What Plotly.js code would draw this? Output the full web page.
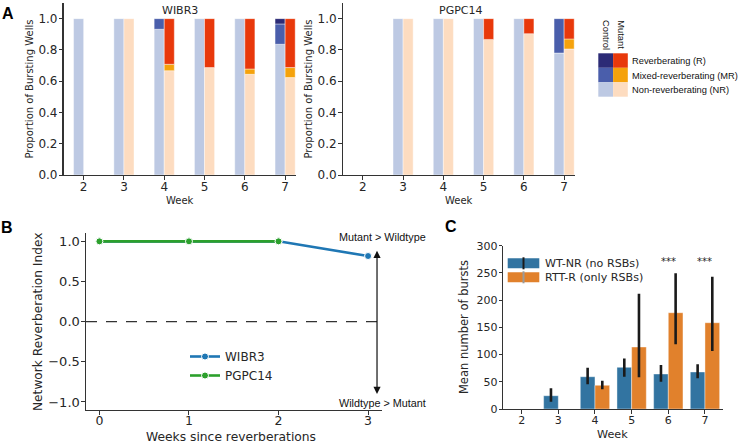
<!DOCTYPE html>
<html>
<head>
<meta charset="utf-8">
<script src="https://cdn.plot.ly/plotly-3.0.1.min.js"></script>
<style>html,body{margin:0;padding:0;background:#fff;}#chart{width:739px;height:444px;}</style>
</head>
<body>
<div id="chart"></div>
<script>
// ---------- Panel A data ----------
const weeks = [2, 3, 4, 5, 6, 7];
const wibr3CtrlNR = [1.0, 1.0, 0.932, 1.0, 1.0, 0.836];
const wibr3CtrlMR = [0, 0, 0.068, 0, 0, 0.130];
const wibr3CtrlR  = [0, 0, 0, 0, 0, 0.034];
const wibr3MutNR  = [null, 1.0, 0.667, 0.687, 0.644, 0.623];
const wibr3MutMR  = [null, 0, 0.041, 0, 0.034, 0.064];
const wibr3MutR   = [null, 0, 0.292, 0.313, 0.322, 0.313];

const pgpcCtrlNR = [null, 1.0, 1.0, 1.0, 1.0, 0.780];
const pgpcCtrlMR = [null, 0, 0, 0, 0, 0.220];
const pgpcCtrlR  = [null, 0, 0, 0, 0, 0];
const pgpcMutNR  = [null, 1.0, 1.0, 0.867, 0.904, 0.806];
const pgpcMutMR  = [null, 0, 0, 0, 0, 0.064];
const pgpcMutR   = [null, 0, 0, 0.133, 0.096, 0.130];

const legendA = ['Reverberating (R)', 'Mixed-reverberating (MR)', 'Non-reverberating (NR)'];

// ---------- Panel B data ----------
const weeksSince = [0, 1, 2, 3];
const nriWIBR3 = [1.0, 1.0, 1.0, 0.817];
const nriPGPC14 = [1.0, 1.0, 1.0];

// ---------- Panel C data ----------
const weeksC = [2, 3, 4, 5, 6, 7];
const wtNR   = [null, 24.4, 59.3, 76.5, 64.3, 68.0];
const wtNRlo = [null, 13.4, 45.3, 59.3, 50.2, 56.4];
const wtNRhi = [null, 38.0, 75.9, 93.0, 80.8, 82.0];
const rttR   = [null, null, 43.5, 113.9, 176.9, 158.5];
const rttRlo = [null, null, 36.2, 58.2, 118.8, 106.5];
const rttRhi = [null, null, 52.0, 211.8, 249.3, 243.0];
const sigWeeks = [6, 7];
const sigLabels = ['***', '***'];
const sigY = [271, 271];

// ---------- styles ----------
const colCtrl = {R: '#2c2b76', MR: '#4a5eab', NR: '#bdc9e3'};
const colMut  = {R: '#e8380b', MR: '#f5a20c', NR: '#fddcc0'};
const DJ = 'DejaVu Sans, sans-serif';
const LS = 'Liberation Sans, Arial, sans-serif';
const axCol = '#333333';
const txtCol = '#262626';

const W = 739, H = 444;
const px = v => v / W;
const py = v => 1 - v / H;

const traces = [];
function nz(a) { return a.map(v => (v === null || v <= 0) ? null : v); }
function addStack(xa, ya, nr, mr, r, cols, offset) {
  const baseMR = nr.map(v => v === null ? null : v);
  const baseR = nr.map((v, i) => v === null ? null : v + (mr[i] || 0));
  const segs = [[nr, weeks.map(() => 0), cols.NR], [mr, baseMR, cols.MR], [r, baseR, cols.R]];
  segs.forEach(([vals, base, c]) => {
    traces.push({
      type: 'bar', x: weeks, y: nz(vals), base: base, offset: offset, width: 0.25,
      xaxis: xa, yaxis: ya, showlegend: false, hoverinfo: 'skip',
      marker: {color: c, line: {color: 'rgba(255,255,255,0.7)', width: 0.6}}
    });
  });
}
addStack('x', 'y', wibr3CtrlNR, wibr3CtrlMR, wibr3CtrlR, colCtrl, -0.25);
addStack('x', 'y', wibr3MutNR, wibr3MutMR, wibr3MutR, colMut, 0);
addStack('x2', 'y2', pgpcCtrlNR, pgpcCtrlMR, pgpcCtrlR, colCtrl, -0.25);
addStack('x2', 'y2', pgpcMutNR, pgpcMutMR, pgpcMutR, colMut, 0);

// Panel B
traces.push({
  type: 'scatter', mode: 'lines+markers', name: 'WIBR3', x: weeksSince, y: nriWIBR3,
  xaxis: 'x3', yaxis: 'y3', line: {color: '#1f77b4', width: 2.6},
  marker: {size: 7, color: '#1f77b4', line: {color: '#fff', width: 1}}, legend: 'legend'
});
traces.push({
  type: 'scatter', mode: 'lines+markers', name: 'PGPC14', x: weeksSince.slice(0, 3), y: nriPGPC14,
  xaxis: 'x3', yaxis: 'y3', line: {color: '#2ca02c', width: 2.6},
  marker: {size: 7, color: '#2ca02c', line: {color: '#fff', width: 1}}, legend: 'legend'
});

// Panel C
function errs(v, lo, hi) {
  return {
    type: 'data', symmetric: false,
    array: v.map((x, i) => x === null ? null : hi[i] - x),
    arrayminus: v.map((x, i) => x === null ? null : x - lo[i]),
    color: '#1a1a1a', thickness: 2.6, width: 0
  };
}
traces.push({
  type: 'bar', x: weeksC, y: wtNR, offset: -0.4, width: 0.4, xaxis: 'x4', yaxis: 'y4',
  showlegend: false, marker: {color: '#3274a1', line: {color: 'rgba(255,255,255,0.5)', width: 0.8}},
  error_y: errs(wtNR, wtNRlo, wtNRhi)
});
traces.push({
  type: 'bar', x: weeksC, y: rttR, offset: 0, width: 0.4, xaxis: 'x4', yaxis: 'y4',
  showlegend: false, marker: {color: '#e1812c', line: {color: 'rgba(255,255,255,0.5)', width: 0.8}},
  error_y: errs(rttR, rttRlo, rttRhi)
});

function xAxis(extra) {
  return Object.assign({
    showgrid: false, zeroline: false, showline: true, linecolor: axCol, linewidth: 1.1,
    ticks: 'outside', ticklen: 3.5, tickwidth: 1, tickcolor: axCol, mirror: false,
    fixedrange: true, automargin: false, ticklabelstandoff: -3
  }, extra);
}
function yAxis(extra) {
  return Object.assign({
    showgrid: false, zeroline: false, showline: true, linecolor: axCol, linewidth: 1.1,
    ticks: 'outside', ticklen: 3.5, tickwidth: 1, tickcolor: axCol, mirror: false,
    fixedrange: true, automargin: false, ticklabelstandoff: -1
  }, extra);
}

const layout = {
  width: W, height: H, margin: {l: 0, r: 0, t: 0, b: 0},
  paper_bgcolor: '#fff', plot_bgcolor: 'rgba(0,0,0,0)',
  barmode: 'overlay', bargap: 0,
  font: {family: DJ, color: txtCol},
  xaxis: xAxis({domain: [px(63.5), px(296)], range: [1.5, 7.27], tickvals: weeks,
    tickfont: {size: 12}, anchor: 'y'}),
  yaxis: yAxis({domain: [py(175), py(3)], range: [0, 1.1], tickvals: [0, 0.2, 0.4, 0.6, 0.8, 1.0],
    tickformat: '.1f', tickfont: {size: 12}, anchor: 'x'}),
  xaxis2: xAxis({domain: [px(342.7), px(575)], range: [1.5, 7.27], tickvals: weeks,
    tickfont: {size: 12}, anchor: 'y2'}),
  yaxis2: yAxis({domain: [py(175), py(3)], range: [0, 1.1], tickvals: [0, 0.2, 0.4, 0.6, 0.8, 1.0],
    tickformat: '.1f', tickfont: {size: 12}, anchor: 'x2'}),
  xaxis3: xAxis({domain: [px(86), px(381.5)], range: [-0.15, 3.15], tickvals: [0, 1, 2, 3],
    tickfont: {size: 12.5}, anchor: 'y3', ticklabelstandoff: -5}),
  yaxis3: yAxis({domain: [py(410), py(233.3)], range: [-1.1, 1.1], tickvals: [-1, -0.5, 0, 0.5, 1],
    tickformat: '.1f', tickfont: {size: 13}, anchor: 'x3'}),
  xaxis4: xAxis({domain: [px(503.3), px(723.3)], range: [1.5, 7.5], tickvals: weeksC,
    tickfont: {size: 11}, anchor: 'y4'}),
  yaxis4: yAxis({domain: [py(409), py(245.7)], range: [0, 300], tickvals: [0, 50, 100, 150, 200, 250, 300],
    tickfont: {size: 11}, anchor: 'x4'}),
  legend: {x: px(185), y: py(342), xanchor: 'left', yanchor: 'top', bgcolor: 'rgba(0,0,0,0)',
    font: {family: DJ, size: 12, color: txtCol}, tracegroupgap: 0},
  shapes: [],
  annotations: []
};

function txt(x, y, t, size, opts) {
  layout.annotations.push(Object.assign({xref: 'paper', yref: 'paper', x: px(x), y: py(y), text: t,
    showarrow: false, xanchor: 'center', yanchor: 'middle',
    font: {family: DJ, size: size, color: txtCol}}, opts || {}));
}

// axis titles
txt(29, 89.5, 'Proportion of Bursting Wells', 10, {textangle: -90});
txt(308, 89.5, 'Proportion of Bursting Wells', 10, {textangle: -90});
txt(179.7, 200.5, 'Week', 10);
txt(458.9, 200.5, 'Week', 10);
txt(37.3, 321.7, 'Network Reverberation Index', 12.2, {textangle: -90});
txt(231, 436.5, 'Weeks since reverberations', 12.3);
txt(463.3, 326.8, 'Mean number of bursts', 11.5, {textangle: -90});
txt(612.7, 434.5, 'Week', 11.2);

// subplot titles
txt(179.5, 10.7, 'WIBR3', 11);
txt(460.7, 10.7, 'PGPC14', 11);

// panel letters
[['A', 8, 13.3], ['B', 7, 227.5], ['C', 450.5, 226.5]].forEach(([t, x, y]) => {
  txt(x, y, '<b>' + t + '</b>', 16, {font: {family: LS, size: 16, color: '#000'}});
});

// Panel A custom legend grid
const rowsY = [53.3, 67.8, 82.3, 96.7];
const colsX = [598.3, 613.1, 627.8];
const keys = ['R', 'MR', 'NR'];
keys.forEach((k, i) => {
  layout.shapes.push({type: 'rect', xref: 'paper', yref: 'paper', x0: px(colsX[0]), x1: px(colsX[1]),
    y0: py(rowsY[i + 1]), y1: py(rowsY[i]), fillcolor: colCtrl[k], line: {width: 0}});
  layout.shapes.push({type: 'rect', xref: 'paper', yref: 'paper', x0: px(colsX[1]), x1: px(colsX[2]),
    y0: py(rowsY[i + 1]), y1: py(rowsY[i]), fillcolor: colMut[k], line: {width: 0}});
  txt(630, (rowsY[i] + rowsY[i + 1]) / 2 + 0.5, legendA[i], 9.3,
    {xanchor: 'left', font: {family: LS, size: 9.3, color: '#111'}});
});
txt(606, 35, 'Control', 9.3, {textangle: 90, font: {family: LS, size: 9.3, color: '#111'}});
txt(620.7, 35, 'Mutant', 9.3, {textangle: 90, font: {family: LS, size: 9.3, color: '#111'}});

// Panel B dashed zero line & arrow
layout.shapes.push({type: 'line', xref: 'x3', yref: 'y3', x0: -0.15, x1: 3.1, y0: 0, y1: 0,
  line: {color: '#333', width: 1.2, dash: '11px,9px'}});
layout.annotations.push({xref: 'x3', yref: 'y3', axref: 'x3', ayref: 'y3', x: 3.1, y: -0.9, ax: 3.1, ay: 0.9,
  text: '', showarrow: true, arrowside: 'end+start', arrowhead: 2, arrowsize: 1.2, arrowwidth: 1.2, arrowcolor: '#111'});
txt(382.4, 237.3, 'Mutant &gt; Wildtype', 10.8, {font: {family: LS, size: 10.8, color: '#111'}});
txt(382.6, 402.7, 'Wildtype &gt; Mutant', 10.8, {font: {family: LS, size: 10.8, color: '#111'}});

// Panel C significance stars
sigWeeks.forEach((w, i) => {
  layout.annotations.push({xref: 'x4', yref: 'y4', x: w, y: sigY[i], text: sigLabels[i], showarrow: false,
    xanchor: 'center', yanchor: 'middle', font: {family: DJ, size: 10, color: txtCol}});
});

// Panel C legend (patch + error line)
const legC = [['WT-NR (no RSBs)', '#3274a1', '#1a1a1a', 263.3], ['RTT-R (only RSBs)', '#e1812c', '#9a9a9a', 277.3]];
legC.forEach(([t, c, ec, yc]) => {
  layout.shapes.push({type: 'rect', xref: 'paper', yref: 'paper', x0: px(507.7), x1: px(539.3),
    y0: py(yc + 5), y1: py(yc - 5), fillcolor: c, line: {width: 0}});
  layout.shapes.push({type: 'line', xref: 'paper', yref: 'paper', x0: px(523.5), x1: px(523.5),
    y0: py(yc + 6), y1: py(yc - 6), line: {color: ec, width: 2}});
  txt(543, yc, t, 11.1, {xanchor: 'left'});
});

Plotly.newPlot('chart', traces, layout, {staticPlot: true, displayModeBar: false});
</script>
</body>
</html>
